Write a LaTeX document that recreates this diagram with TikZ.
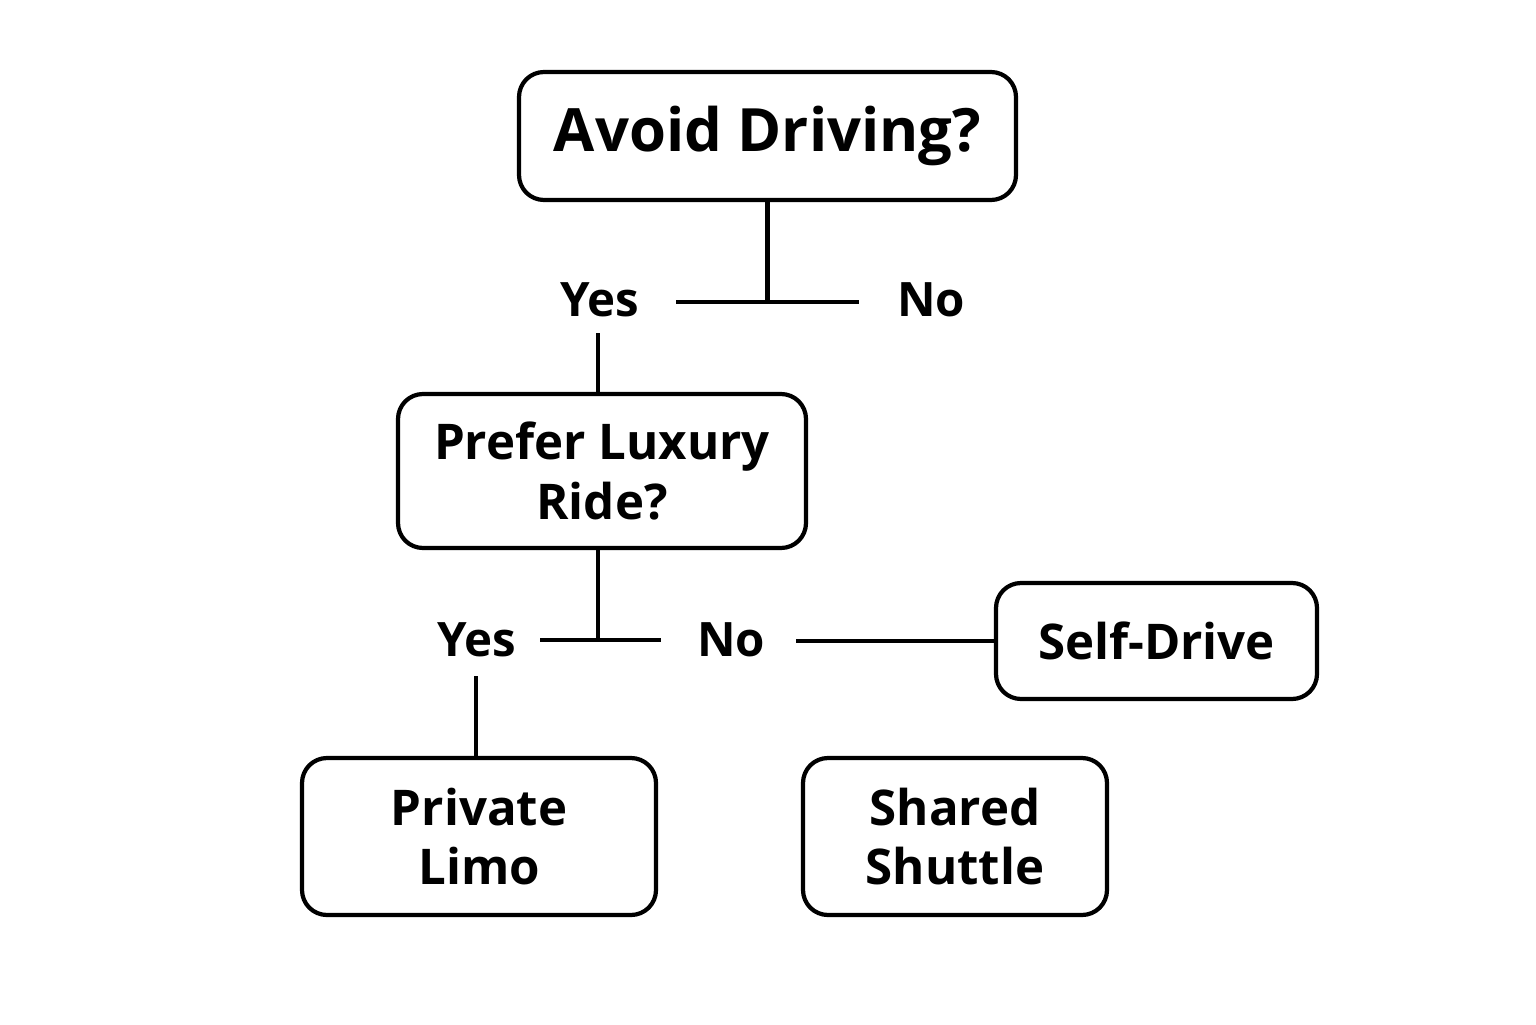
\documentclass[tikz,border=0pt]{standalone}
\usepackage{fontspec}
\setmainfont{Open Sans}
\usetikzlibrary{positioning}
\begin{document}
\begin{tikzpicture}[main/.style={draw,rounded corners=2.5mm,line width=1.2pt,align=center,font=\bfseries\fontsize{14}{17}\selectfont},
lab/.style={font=\bfseries\fontsize{13.5}{16}\selectfont},
link/.style={line width=1.2pt}]
\useasboundingbox (0,0) rectangle (15.36,10.24);
\node[main,minimum width=4.97cm,minimum height=1.28cm,font=\bfseries\fontsize{17}{20}\selectfont] (1) at (7.675,8.88) {Avoid Driving?};
\node[main,minimum width=4.08cm,minimum height=1.54cm] (2) at (6.02,5.53) {Prefer Luxury\\Ride?};
\node[main,minimum width=3.21cm,minimum height=1.16cm] (3) at (11.565,3.83) {Self-Drive};
\node[main,minimum width=3.54cm,minimum height=1.57cm] (4) at (4.79,1.875) {Private\\Limo};
\node[main,minimum width=3.04cm,minimum height=1.57cm] (5) at (9.55,1.875) {Shared\\Shuttle};

\node[lab] (y1) at (6.0,7.24) {Yes};
\node[lab] (n1) at (9.31,7.24) {No};
\node[lab] (y2) at (4.77,3.84) {Yes};
\node[lab] (n2) at (7.31,3.84) {No};

\coordinate (a1) at (6.76,7.22);
\coordinate (b1) at (8.59,7.22);
\coordinate (a2) at (5.40,3.84);
\coordinate (b2) at (6.61,3.84);

\draw[link] (a1) -- (b1);
\draw[link] (1.south) -- (1.south |- a1);
\draw[link] (2.north -| y1) ++(-0.02,0) -- ++(0,0.59);
\draw[link] (a2) -- (b2);
\draw[link] (2.south -| 5.98,0) -- (5.98,3.84);
\draw[link] (7.96,3.83) -- (3.west);
\draw[link] (4.north -| 4.76,0) -- (4.76,3.48);
\end{tikzpicture}
\end{document}
